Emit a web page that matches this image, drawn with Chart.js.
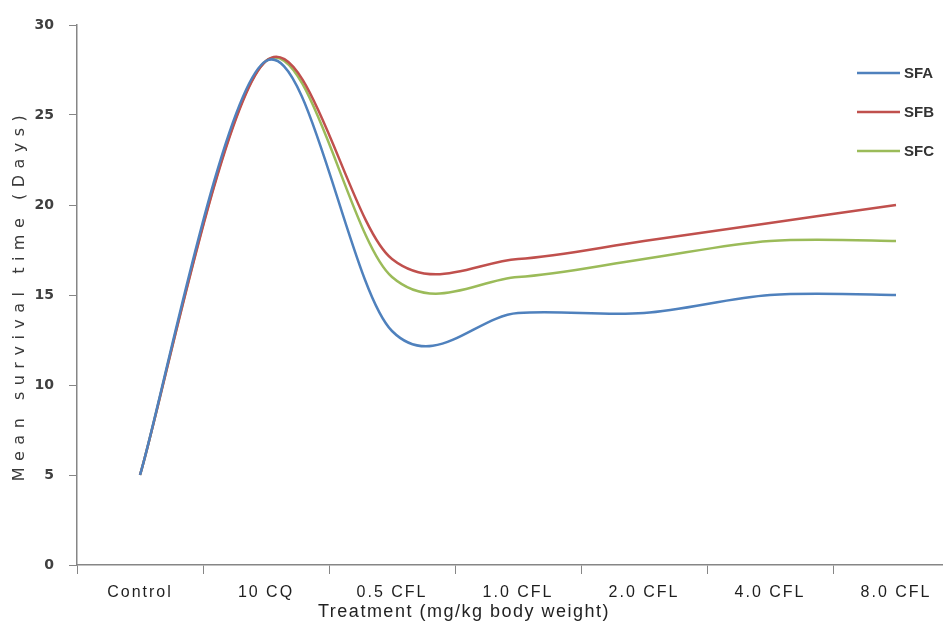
<!DOCTYPE html>
<html lang="en">
<head>
  <meta charset="UTF-8">
  <title>Mean survival time by treatment</title>
  <script src="https://cdn.jsdelivr.net/npm/chart.js"></script>
  <style>
    body {
      margin: 0;
      background: #fff;
      overflow: hidden;
    }
    .chart-container {
      width: 959px;
      height: 624px;
      position: relative;
    }
  </style>
</head>
<body>

<div class="chart-container">
  <canvas id="survivalChart"></canvas>
</div>

<script>
const categories = ['Control', '10 CQ', '0.5 CFL', '1.0 CFL', '2.0 CFL', '4.0 CFL', '8.0 CFL'];
const sfa = [5, 28, 13, 14, 14, 15, 15];
const sfb = [5, 28, 17, 17, 18, 19, 20];
const sfc = [5, 28, 16, 16, 17, 18, 18];
const yTicks = [0, 5, 10, 15, 20, 25, 30];

const xTitle = 'Treatment (mg/kg body weight)';
const yTitle = 'Mean survival time (Days)';
const axisColor = '#868686';

// Excel style smoothing: control points at 1/6 of the neighbour span
const excelSmooth = {
  id: 'excelSmooth',
  beforeDatasetDraw(chart, args) {
    const meta = args.meta;
    const pts = meta.data;
    const n = pts.length;
    for (let i = 0; i < n; i++) {
      const p = pts[i];
      const prev = pts[Math.max(i - 1, 0)];
      const next = pts[Math.min(i + 1, n - 1)];
      const dx = (next.x - prev.x) / 6;
      const dy = (next.y - prev.y) / 6;
      p.cp1x = p.x - dx; p.cp1y = p.y - dy;
      p.cp2x = p.x + dx; p.cp2y = p.y + dy;
    }
    meta.dataset._pointsUpdated = true;
    meta.dataset._path = undefined;
  }
};

// legend on the right and the two axis titles (spaced, x title off centre)
const extras = {
  id: 'extras',
  afterDraw(chart) {
    const ctx = chart.ctx;
    ctx.save();
    chart.data.datasets.forEach((ds, i) => {
      const y = 73 + i * 39;
      ctx.strokeStyle = ds.borderColor;
      ctx.lineWidth = 2.5;
      ctx.beginPath();
      ctx.moveTo(857, y);
      ctx.lineTo(900, y);
      ctx.stroke();
      ctx.fillStyle = '#333';
      ctx.font = 'bold 15px "Liberation Sans", Arial, sans-serif';
      ctx.textBaseline = 'middle';
      ctx.fillText(ds.label, 904, y + 1);
    });

    ctx.font = '18px "Liberation Sans", Arial, sans-serif';
    ctx.letterSpacing = '1.5px';
    ctx.fillStyle = '#222';
    ctx.textAlign = 'center';
    ctx.textBaseline = 'middle';
    ctx.fillText(xTitle, 464, 612);

    const area = chart.chartArea;
    ctx.translate(20, (area.top + area.bottom) / 2);
    ctx.rotate(-Math.PI / 2);
    ctx.font = '16px "DejaVu Sans", sans-serif';
    ctx.letterSpacing = '6.5px';
    ctx.fillStyle = '#3a3a3a';
    ctx.fillText(yTitle, 0, 0);
    ctx.restore();
  }
};

// x labels are slightly spaced out in the original
function spaceOut(s) {
  if (s._spaced) return;
  s._spaced = true;
  const orig = s.drawLabels.bind(s);
  s.drawLabels = (...a) => {
    const c = s.ctx;
    c.save();
    c.letterSpacing = '2px';
    orig(...a);
    c.restore();
  };
}

const ctx = document.getElementById('survivalChart').getContext('2d');
new Chart(ctx, {
  type: 'line',
  data: {
    labels: categories,
    datasets: [
      { label: 'SFA', data: sfa, borderColor: '#4F81BD' },
      { label: 'SFB', data: sfb, borderColor: '#C0504D' },
      { label: 'SFC', data: sfc, borderColor: '#9BBB59' }
    ].map(d => Object.assign(d, {
      borderWidth: 2.5,
      pointRadius: 0,
      fill: false,
      tension: 0.4,
      capBezierPoints: false
    }))
  },
  options: {
    responsive: true,
    maintainAspectRatio: false,
    animation: false,
    layout: { padding: { left: 0, top: 25, right: 0, bottom: 0 } },
    plugins: {
      legend: { display: false },
      tooltip: { enabled: false }
    },
    scales: {
      x: {
        offset: true,
        afterFit: s => { s.height = 59; },
        afterUpdate: spaceOut,
        grid: {
          offset: true,
          drawOnChartArea: false,
          drawTicks: true,
          tickLength: 9,
          color: axisColor
        },
        border: { color: axisColor, width: 1.5 },
        ticks: {
          color: '#1e1e1e',
          padding: 9,
          maxRotation: 0,
          font: { family: '"Liberation Sans", Arial, sans-serif', size: 16 }
        }
      },
      y: {
        min: 0,
        max: 30,
        afterFit: s => { s.width = 77; },
        afterBuildTicks: s => { s.ticks = yTicks.map(v => ({ value: v })); },
        grid: {
          drawOnChartArea: false,
          drawTicks: true,
          tickLength: 8,
          color: axisColor
        },
        border: { color: axisColor, width: 1.5 },
        ticks: {
          color: '#404040',
          padding: 15,
          font: { family: '"DejaVu Sans", sans-serif', size: 14, weight: 'bold' }
        }
      }
    }
  },
  plugins: [excelSmooth, extras]
});
</script>
</body>
</html>
